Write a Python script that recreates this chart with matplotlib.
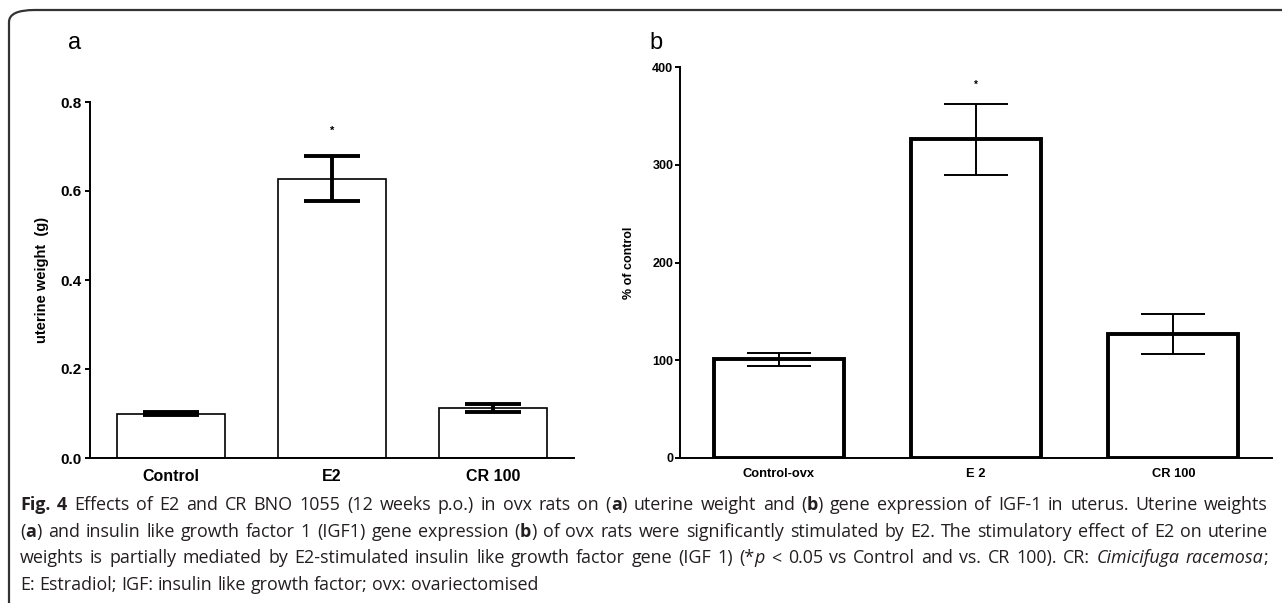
import re
import numpy as np
import matplotlib
matplotlib.use('Agg')
import matplotlib.pyplot as plt
from matplotlib.patches import FancyBboxPatch

# data
groups_a = ['Control', 'E2', 'CR 100']
weight_mean = [0.100, 0.628, 0.112]
weight_sem = [0.004, 0.051, 0.009]

groups_b = ['Control-ovx', 'E 2', 'CR 100']
igf_mean = [101, 326, 127]
igf_sem = [6.5, 36.5, 20.5]

caption = [
    '{b:Fig. 4} Effects of E2 and CR BNO 1055 (12 weeks p.o.) in ovx rats on ({b:a}) uterine weight and ({b:b}) gene expression of IGF-1 in uterus. Uterine weights',
    '({b:a}) and insulin like growth factor 1 (IGF1) gene expression ({b:b}) of ovx rats were significantly stimulated by E2. The stimulatory effect of E2 on uterine',
    'weights is partially mediated by E2-stimulated insulin like growth factor gene (IGF 1) (*{i:p} < 0.05 vs Control and vs. CR 100). CR: {i:Cimicifuga racemosa};',
    'E: Estradiol; IGF: insulin like growth factor; ovx: ovariectomised',
]

W, H = 1282, 603
fig = plt.figure(figsize=(W / 100, H / 100), dpi=100)
plt.rcParams['font.family'] = ['Liberation Sans', 'DejaVu Sans']


def px(x, y):
    return x / W, 1 - y / H


# rounded frame around the figure (cut off at right and bottom)
frame = FancyBboxPatch((9 / W, -0.1), 1.2, 1 - 10 / H + 0.1,
                       boxstyle='round,pad=0,rounding_size=0.02',
                       transform=fig.transFigure, facecolor='none',
                       edgecolor='#333333', linewidth=1.6)
fig.patches.append(frame)


def style_axes(ax, spine_w):
    for s in ['top', 'right']:
        ax.spines[s].set_visible(False)
    for s in ['left', 'bottom']:
        ax.spines[s].set_linewidth(spine_w)
    ax.tick_params(axis='y', direction='out', length=3.8, width=spine_w)
    ax.tick_params(axis='x', length=0)


# panel a
ax1 = fig.add_axes([90 / W, 1 - 458 / H, (574 - 90) / W, (458 - 102) / H])
x = np.arange(len(groups_a))
ax1.bar(x, weight_mean, width=0.67, color='white', edgecolor='black', linewidth=1.2)
ax1.errorbar(x, weight_mean, yerr=weight_sem, fmt='none', ecolor='black',
             elinewidth=2.8, capsize=20, capthick=2.8)
ax1.text(1, weight_mean[1] + weight_sem[1] + 0.045, '*', ha='center', va='bottom',
         fontsize=8, fontweight='bold')
ax1.set_xlim(-0.5, 2.5)
ax1.set_ylim(0, 0.8)
ax1.set_yticks([0, 0.2, 0.4, 0.6, 0.8])
ax1.set_yticklabels(['0.0', '0.2', '0.4', '0.6', '0.8'])
ax1.set_xticks(x)
ax1.set_xticklabels(groups_a)
style_axes(ax1, 1.4)
ax1.tick_params(axis='y', labelsize=11, pad=2)
ax1.tick_params(axis='x', labelsize=11.5, pad=8)
for lab in ax1.get_xticklabels() + ax1.get_yticklabels():
    lab.set_fontweight('bold')
ax1.set_ylabel('uterine weight  (g)', fontsize=10.5, fontweight='bold')
ax1.yaxis.set_label_coords(-0.084, 0.5)

# panel b
ax2 = fig.add_axes([680 / W, 1 - 458 / H, (1272 - 680) / W, (458 - 67) / H])
x = np.arange(len(groups_b))
ax2.bar(x, igf_mean, width=0.66, color='white', edgecolor='black', linewidth=2.8)
ax2.errorbar(x, igf_mean, yerr=igf_sem, fmt='none', ecolor='black',
             elinewidth=1.4, capsize=23, capthick=1.4)
ax2.text(1, igf_mean[1] + igf_sem[1] + 14, '*', ha='center', va='bottom',
         fontsize=7, fontweight='bold')
ax2.set_xlim(-0.5, 2.5)
ax2.set_ylim(0, 400)
ax2.set_yticks([0, 100, 200, 300, 400])
ax2.set_xticks(x)
ax2.set_xticklabels(groups_b)
style_axes(ax2, 1.4)
ax2.tick_params(axis='y', labelsize=9, pad=1)
ax2.tick_params(axis='x', labelsize=9.3, pad=7)
for lab in ax2.get_xticklabels() + ax2.get_yticklabels():
    lab.set_fontweight('bold')
ax2.set_ylabel('% of control', fontsize=9, fontweight='bold')
ax2.yaxis.set_label_coords(-0.076, 0.5)

# panel letters
fig.text(*px(75, 43), 'a', fontsize=17, ha='center', va='center')
fig.text(*px(656, 43), 'b', fontsize=17, ha='center', va='center')

# caption, justified like the journal layout
cap_font = ['Open Sans', 'DejaVu Sans']
cap_size = 12.9
renderer = fig.canvas.get_renderer()


def parse_line(line):
    # split into words, each a list of (text, style) parts
    words = [[]]
    for m in re.finditer(r'\{([bi]):([^}]*)\}|([^{]+)', line):
        if m.group(3) is not None:
            s, st = m.group(3), 'n'
        else:
            s, st = m.group(2), m.group(1)
        pieces = s.split(' ')
        for j, p in enumerate(pieces):
            if j > 0:
                words.append([])
            if p:
                words[-1].append((p, st))
    return [w for w in words if w]


def make_text(s, st, xx, yy):
    kw = dict(fontsize=cap_size, family=cap_font, color='#231f20', va='baseline')
    if st == 'b':
        kw['fontweight'] = 'bold'
    if st == 'i':
        kw['style'] = 'italic'
    return fig.text(xx / W, 1 - yy / H, s, **kw)


def text_w(t):
    return t.get_window_extent(renderer).width


tmp1 = make_text('a a', 'n', 0, 0)
tmp2 = make_text('aa', 'n', 0, 0)
space_w = text_w(tmp1) - text_w(tmp2)
tmp1.remove()
tmp2.remove()

x0, x1 = 20, 1268
y0, dy = 510, 26.7
for i, line in enumerate(caption):
    words = parse_line(line)
    objs = []
    widths = []
    for wd in words:
        t_list = []
        wsum = 0
        for s, st in wd:
            t = make_text(s, st, 0, 0)
            bw = text_w(t)
            t_list.append((t, bw))
            wsum += bw
        objs.append(t_list)
        widths.append(wsum)
    if i < len(caption) - 1:
        gap = (x1 - x0 - sum(widths)) / (len(words) - 1)
    else:
        gap = space_w
    cx = x0
    yy = y0 + i * dy
    for t_list, ww in zip(objs, widths):
        for t, bw in t_list:
            t.set_position((cx / W, 1 - yy / H))
            cx += bw
        cx += gap

fig.savefig('out.png', dpi=100)
